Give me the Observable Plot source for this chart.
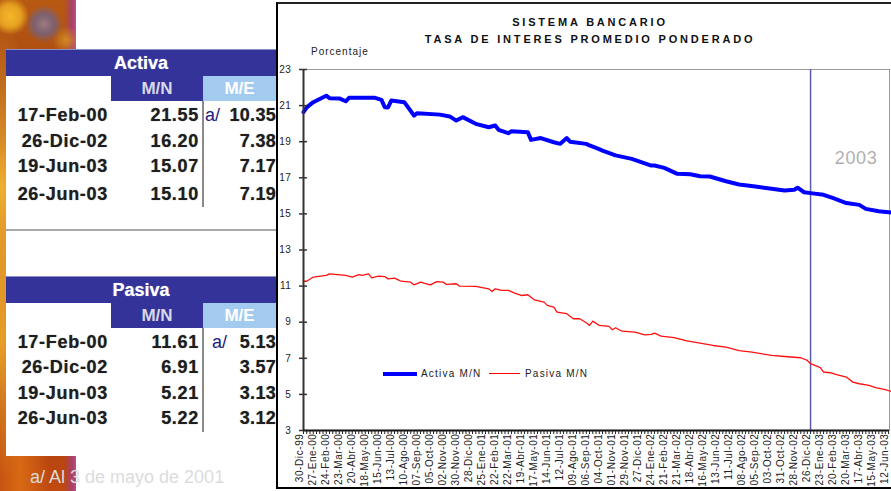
<!DOCTYPE html>
<html><head><meta charset="utf-8">
<script src="https://cdn.jsdelivr.net/npm/d3@7"></script>
<script src="https://cdn.jsdelivr.net/npm/@observablehq/plot@0.6"></script>
<style>
html,body{margin:0;padding:0;}
body{width:891px;height:491px;position:relative;overflow:hidden;background:#fff;font-family:"Liberation Sans",Arial,sans-serif;}
.abs{position:absolute;}
.tex{left:0;top:0;width:76px;height:491px;
 background:
  radial-gradient(circle at 10px 16px,#f4b82c 0,#e6a020 11px,rgba(0,0,0,0) 19px),
  radial-gradient(circle at 44px 24px,#9a7a7e 0,#7d6070 10px,rgba(0,0,0,0) 19px),
  radial-gradient(circle at 66px 40px,#d08a22 0,rgba(0,0,0,0) 14px),
  radial-gradient(ellipse at 2px 190px,#f0b030 0,rgba(0,0,0,0) 40px),
  radial-gradient(ellipse at 2px 340px,#e8a028 0,rgba(0,0,0,0) 30px),
  radial-gradient(ellipse at 20px 470px,#d96a14 0,rgba(0,0,0,0) 30px),
  linear-gradient(90deg,rgba(0,0,0,0) 64px,#a8406a 72px,#b85088 76px),
  linear-gradient(180deg,#b85a12 0%,#9c3a10 30%,#c0601a 55%,#a8380e 80%,#c04a10 100%);}
.panel{left:6px;top:49px;width:270px;height:407px;background:#fff;}
.hdr{background:#333399;color:#fff;font-weight:bold;font-size:18px;text-align:center;border-top:1px solid #8f8fc8;box-sizing:border-box;text-shadow:0 0 1px rgba(255,255,255,.6);}
.sub{font-weight:bold;font-size:17px;text-align:center;line-height:25px;height:25px;}
.cell{font-weight:bold;font-size:18px;letter-spacing:.7px;color:#1e1e1e;line-height:20px;height:20px;text-shadow:0 0 1px rgba(0,0,0,.55);white-space:nowrap;}
.note{font-size:18px;color:#1c1c7a;line-height:20px;}
.box{left:276px;top:2px;width:640px;height:487px;border-left:2px solid #000;border-top:2px solid #222;border-bottom:2px solid #000;box-sizing:border-box;}
.ttl{font-weight:bold;font-size:11px;letter-spacing:2.8px;text-align:center;color:#111;line-height:14px;white-space:nowrap;}
.small{font-size:10px;letter-spacing:1px;color:#222;line-height:12px;white-space:nowrap;}
#chart text{letter-spacing:.6px;}
</style></head><body>
<div class="abs tex"></div>
<div class="abs panel"></div>
<div class="abs box"></div>
<div id="tables"></div>
<div id="titles"></div>
<div id="chart" class="abs" style="left:276px;top:45px;"></div>
<div id="legend"></div>
<script>
// ---- table data ----
const tableDates = ["17-Feb-00", "26-Dic-02", "19-Jun-03", "26-Jun-03"];
const activaMN = [21.55, 16.20, 15.07, 15.10];
const activaME = [10.35, 7.38, 7.17, 7.19];
const pasivaMN = [11.61, 6.91, 5.21, 5.22];
const pasivaME = [5.13, 3.57, 3.13, 3.12];
const noteMark = "a/";
const footNote = "a/ Al 3 de mayo de 2001";

// ---- chart texts ----
const chartTitle = ["SISTEMA BANCARIO", "TASA DE INTERES PROMEDIO PONDERADO"];
const yLabel = "Porcentaje";
const seriesNames = ["Activa M/N", "Pasiva M/N"];
const yTicks = [3, 5, 7, 9, 11, 13, 15, 17, 19, 21, 23];
const xTickLabels = ["30-Dic-99","27-Ene-00","24-Feb-00","23-Mar-00","20-Abr-00","18-May-00","15-Jun-00","13-Jul-00","10-Ago-00","07-Sep-00","05-Oct-00","02-Nov-00","30-Nov-00","28-Dic-00","25-Ene-01","22-Feb-01","22-Mar-01","19-Abr-01","17-May-01","14-Jun-01","12-Jul-01","09-Ago-01","06-Sep-01","04-Oct-01","01-Nov-01","29-Nov-01","27-Dic-01","24-Ene-02","21-Feb-02","21-Mar-02","18-Abr-02","16-May-02","13-Jun-02","11-Jul-02","08-Ago-02","05-Sep-02","03-Oct-02","31-Oct-02","28-Nov-02","26-Dic-02","23-Ene-03","20-Feb-03","20-Mar-03","17-Abr-03","15-May-03","12-Jun-03"];
const markerDate = "2002-12-26";
const yearNote = "2003";
const yearNoteDate = "2003-04-03";
const yearNoteValue = 18.1;
const xDomain = ["1999-12-30", "2003-06-14"];

// ---- series ----
const activaDates = ["1999-12-30","2000-01-06","2000-01-20","2000-02-17","2000-02-24","2000-03-16","2000-03-30","2000-04-06","2000-06-01","2000-06-15","2000-06-22","2000-06-29","2000-07-06","2000-08-03","2000-08-24","2000-08-31","2000-10-19","2000-11-09","2000-11-23","2000-12-07","2001-01-04","2001-02-01","2001-02-15","2001-02-22","2001-03-15","2001-03-22","2001-04-26","2001-05-03","2001-05-24","2001-06-21","2001-07-05","2001-07-19","2001-07-26","2001-08-30","2001-09-06","2001-09-20","2001-10-04","2001-11-01","2001-12-06","2002-01-17","2002-01-24","2002-02-14","2002-03-14","2002-04-11","2002-05-02","2002-05-23","2002-06-27","2002-07-25","2002-08-29","2002-10-03","2002-10-31","2002-11-21","2002-11-28","2002-12-12","2002-12-26","2003-01-23","2003-02-13","2003-03-13","2003-04-10","2003-04-24","2003-05-22","2003-06-19"];
const activaValues = [20.64,20.9,21.19,21.55,21.41,21.4,21.24,21.43,21.43,21.32,20.91,20.9,21.28,21.19,20.45,20.58,20.5,20.4,20.17,20.36,19.99,19.8,19.9,19.66,19.47,19.58,19.53,19.1,19.2,18.97,18.88,19.2,19.0,18.88,18.79,18.66,18.51,18.24,18.05,17.68,17.68,17.55,17.22,17.2,17.09,17.07,16.81,16.63,16.52,16.39,16.3,16.34,16.45,16.2,16.15,16.06,15.87,15.6,15.5,15.28,15.15,15.07];
const pasivaDates = ["1999-12-30","2000-01-06","2000-01-20","2000-02-17","2000-02-24","2000-03-30","2000-04-13","2000-04-27","2000-05-04","2000-05-18","2000-05-25","2000-06-08","2000-06-22","2000-06-29","2000-07-13","2000-07-20","2000-07-27","2000-08-17","2000-08-24","2000-09-07","2000-09-14","2000-09-28","2000-10-12","2000-10-26","2000-11-02","2000-11-23","2000-11-30","2001-01-04","2001-02-01","2001-02-08","2001-02-15","2001-03-01","2001-03-15","2001-03-29","2001-04-12","2001-04-26","2001-05-10","2001-05-31","2001-06-07","2001-06-21","2001-06-28","2001-07-19","2001-08-02","2001-08-16","2001-08-30","2001-09-06","2001-09-13","2001-09-27","2001-10-18","2001-10-25","2001-11-01","2001-11-15","2001-12-13","2002-01-03","2002-01-17","2002-01-24","2002-02-07","2002-03-07","2002-04-04","2002-05-02","2002-05-30","2002-06-27","2002-07-25","2002-08-22","2002-10-03","2002-10-31","2002-12-05","2002-12-19","2002-12-26","2003-01-16","2003-01-23","2003-02-06","2003-02-20","2003-03-13","2003-03-27","2003-04-10","2003-05-01","2003-05-15","2003-06-05","2003-06-19"];
const pasivaValues = [11.27,11.27,11.5,11.59,11.68,11.59,11.5,11.64,11.59,11.68,11.46,11.55,11.53,11.4,11.44,11.36,11.27,11.22,11.07,11.22,11.16,11.07,11.25,11.22,11.09,11.13,11.0,10.98,10.85,10.7,10.85,10.76,10.76,10.61,10.48,10.52,10.24,10.11,9.93,9.83,9.56,9.47,9.19,9.19,8.97,8.82,9.06,8.82,8.77,8.58,8.69,8.5,8.45,8.3,8.32,8.39,8.23,8.14,7.96,7.84,7.71,7.62,7.43,7.34,7.16,7.1,7.03,6.88,6.7,6.48,6.24,6.2,6.09,5.96,5.68,5.59,5.5,5.37,5.26,5.15];

// ---- helpers ----
const parse = d3.utcParse("%Y-%m-%d");
const monthIdx = {Ene:0,Feb:1,Mar:2,Abr:3,May:4,Jun:5,Jul:6,Ago:7,Sep:8,Oct:9,Nov:10,Dic:11};
function parseLabel(s) {
  const [d, m, y] = s.split("-");
  const yy = +y < 50 ? 2000 + +y : 1900 + +y;
  return new Date(Date.UTC(yy, monthIdx[m], +d));
}
const labelDates = xTickLabels.map(parseLabel);
const labelByTime = new Map(labelDates.map((d, i) => [+d, xTickLabels[i]]));
const dom = xDomain.map(parse);
const weekTicks = d3.utcThursday.range(dom[0], d3.utcDay.offset(dom[1], 1));
const activa = activaDates.map((d, i) => ({date: parse(d), value: activaValues[i]}));
const pasiva = pasivaDates.map((d, i) => ({date: parse(d), value: pasivaValues[i]}));

// ---- tables ----
function el(cls, style, text) {
  const e = document.createElement("div");
  e.className = "abs " + cls;
  e.setAttribute("style", style);
  if (text != null) e.textContent = text;
  return e;
}
const T = document.getElementById("tables");
function table(name, top, subTop, rowTops, mn, me, noteLeft, divTop, divH) {
  T.appendChild(el("hdr", `left:6px;top:${top}px;width:270px;height:${subTop - top}px;line-height:${subTop - top}px;`, name));
  T.appendChild(el("sub", `left:111px;top:${subTop}px;width:92px;background:#333399;color:#d8d8e8;`, "M/N"));
  T.appendChild(el("sub", `left:203px;top:${subTop}px;width:73px;background:#a3cbef;color:#fff;`, "M/E"));
  T.appendChild(el("", `left:202px;top:${divTop}px;width:2px;height:${divH}px;background:#8a8a8a;`));
  rowTops.forEach((rt, i) => {
    T.appendChild(el("cell", `left:0px;top:${rt}px;width:108px;text-align:right;`, tableDates[i]));
    T.appendChild(el("cell", `left:105px;top:${rt}px;width:94px;text-align:right;`, mn[i].toFixed(2)));
    T.appendChild(el("cell", `left:215px;top:${rt}px;width:61px;text-align:right;letter-spacing:.3px;`, me[i].toFixed(2)));
    if (i === 0) T.appendChild(el("note", `left:${noteLeft}px;top:${rt}px;`, noteMark));
  });
}
table("Activa", 49, 76, [105, 131, 156, 184], activaMN, activaME, 205, 101, 106);
T.appendChild(el("", "left:6px;top:229px;width:270px;height:2px;background:#a8a8a8;"));
table("Pasiva", 276, 303, [332, 357, 383, 408], pasivaMN, pasivaME, 212, 328, 104);
T.appendChild(el("", "left:30px;top:467px;font-size:18px;line-height:20px;color:#dcdcdc;white-space:nowrap;", footNote));

// ---- titles ----
const TT = document.getElementById("titles");
TT.appendChild(el("ttl", "left:390px;top:15px;width:400px;", chartTitle[0]));
TT.appendChild(el("ttl", "left:390px;top:32px;width:400px;", chartTitle[1]));
TT.appendChild(el("small", "left:311px;top:46px;", yLabel));

// ---- legend ----
const L = document.getElementById("legend");
L.appendChild(el("", "left:383px;top:372px;width:34px;height:4px;background:#0000ff;"));
L.appendChild(el("small", "left:421px;top:368px;letter-spacing:1.2px;", seriesNames[0]));
L.appendChild(el("", "left:489px;top:373px;width:31px;height:1.3px;background:#ff0000;"));
L.appendChild(el("small", "left:525px;top:368px;letter-spacing:1.2px;", seriesNames[1]));

// ---- chart ----
const chart = Plot.plot({
  width: 615,
  height: 446,
  marginLeft: 27,
  marginRight: 2,
  marginTop: 24,
  marginBottom: 61,
  x: {type: "utc", domain: dom, label: null},
  y: {domain: [3, 23], label: null},
  style: {fontFamily: "'Liberation Sans', Arial, sans-serif", fontSize: "10px", color: "#222", background: "transparent", overflow: "visible"},
  marks: [
    Plot.frame({stroke: "#9a9a9a", strokeWidth: 1}),
    Plot.ruleX([parse(markerDate)], {stroke: "#5b5bab", strokeWidth: 1.5}),
    Plot.lineY(pasiva, {x: "date", y: "value", stroke: "#ff1010", strokeWidth: 1.3}),
    Plot.lineY(activa, {x: "date", y: "value", stroke: "#0000ff", strokeWidth: 4, strokeLinejoin: "round", strokeLinecap: "round"}),
    Plot.ruleY([3], {stroke: "#111", strokeWidth: 2}),
    Plot.ruleX([dom[0]], {stroke: "#333", strokeWidth: 2}),
    Plot.axisY({ticks: yTicks, tickSize: 8, dx: 4, tickFormat: () => "", stroke: "#333", strokeWidth: 1.5, label: null}),
    Plot.axisY({ticks: yTicks, tickSize: 0, tickPadding: 12, tickFormat: d3.format("d"), fill: "#222", fontSize: 10, label: null}),
    Plot.axisX({ticks: weekTicks, tickSize: 4, tickFormat: () => "", stroke: "#222", label: null}),
    Plot.axisX({ticks: labelDates, tickSize: 0, tickPadding: 3, tickRotate: -90, dx: -4, tickFormat: d => labelByTime.get(+d), fill: "#222", fontSize: 10, label: null}),
    Plot.text([yearNote], {x: () => parse(yearNoteDate), y: () => yearNoteValue, text: d => d, fill: "#b0b0b0", fontSize: 18})
  ]
});
document.getElementById("chart").appendChild(chart);
</script>
</body></html>
